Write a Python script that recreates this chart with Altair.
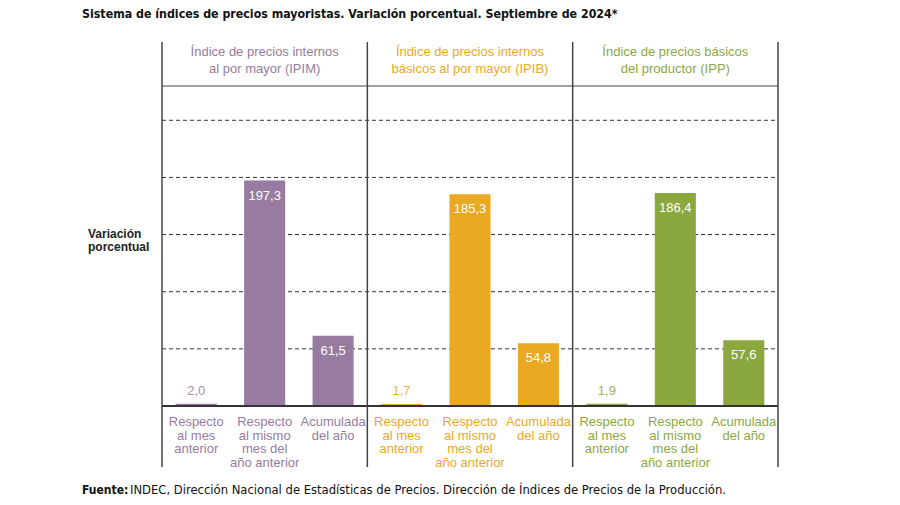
import altair as alt
import pandas as pd

# ---- data ----
groups = ["IPIM", "IPIB", "IPP"]
group_headers = [
    "Índice de precios internos\nal por mayor (IPIM)",
    "Índice de precios internos\nbásicos al por mayor (IPIB)",
    "Índice de precios básicos\ndel productor (IPP)",
]
categories = [
    "Respecto\nal mes\nanterior",
    "Respecto\nal mismo\nmes del\naño anterior",
    "Acumulada\ndel año",
]
ipim_values = [2.0, 197.3, 61.5]
ipib_values = [1.7, 185.3, 54.8]
ipp_values = [1.9, 186.4, 57.6]
group_colors = ["#977ba0", "#e9a923", "#8aa83d"]
grid_values = [50, 100, 150, 200, 250]
y_max = 280

title_text = "Sistema de índices de precios mayoristas. Variación porcentual. Septiembre de 2024*"
source_bold = "Fuente:"
source_text = "INDEC, Dirección Nacional de Estadísticas de Precios. Dirección de Índices de Precios de la Producción."
y_title = "Variación\nporcentual"

# ---- tables ----
W, H = 616, 320
rows = []
keys = []
for g, vals in zip(groups, [ipim_values, ipib_values, ipp_values]):
    for i, (c, v) in enumerate(zip(categories, vals)):
        k = f"{g}|{i}"
        keys.append(k)
        rows.append({"group": g, "key": k, "cat": c, "value": v,
                     "label": f"{v:.1f}".replace(".", ",")})
df = pd.DataFrame(rows)
df_grid = pd.DataFrame({"y": grid_values})
df_div = pd.DataFrame({"b": [0, 1, 2, 3]})
df_head = pd.DataFrame({"c": [0.5, 1.5, 2.5], "group": groups, "text": group_headers})

COND = "DejaVu Sans Condensed, Liberation Sans Narrow, Liberation Sans"

color = alt.Color("group:N", scale=alt.Scale(domain=groups, range=group_colors), legend=None)
xband = alt.X("key:N", sort=keys,
              scale=alt.Scale(domain=keys, paddingInner=0.4, paddingOuter=0.2), axis=None)
yq = alt.Y("value:Q", scale=alt.Scale(domain=[0, y_max], nice=False), axis=None)
xq_div = alt.X("b:Q", scale=alt.Scale(domain=[0, 3], nice=False, zero=False), axis=None)
xq_head = alt.X("c:Q", scale=alt.Scale(domain=[0, 3], nice=False, zero=False), axis=None)

base = alt.Chart(df)

grid = alt.Chart(df_grid).mark_rule(color="#333333", strokeWidth=1, strokeDash=[4, 3]).encode(
    y=alt.Y("y:Q", scale=alt.Scale(domain=[0, y_max], nice=False), axis=None),
    x=alt.value(0), x2=alt.value(W))

top_line = alt.Chart(pd.DataFrame({"y": [y_max]})).mark_rule(color="#444444", strokeWidth=1).encode(
    y=alt.Y("y:Q", scale=alt.Scale(domain=[0, y_max], nice=False), axis=None),
    x=alt.value(0), x2=alt.value(W))

bars = base.mark_bar().encode(x=xband, y=yq, color=color)

base_line = alt.Chart(pd.DataFrame({"y": [0]})).mark_rule(color="#333333", strokeWidth=2).encode(
    y=alt.Y("y:Q", scale=alt.Scale(domain=[0, y_max], nice=False), axis=None),
    x=alt.value(0), x2=alt.value(W))

dividers = alt.Chart(df_div).mark_rule(color="#444444", strokeWidth=1.5).encode(
    x=xq_div, y=alt.value(-44), y2=alt.value(381))

inside_labels = base.transform_filter("datum.value > 20").mark_text(
    font="Liberation Sans", fontSize=13, color="white", baseline="middle", dy=15
).encode(x=xband, y=yq, text="label:N")

small_labels = base.transform_filter("datum.value <= 20").mark_text(
    font="Liberation Sans", fontSize=13, baseline="middle", dy=-13, opacity=0.85
).encode(x=xband, y=yq, text="label:N", color=color)

cat_labels = base.mark_text(
    font="Liberation Sans", fontSize=13, baseline="top", lineBreak="\n", lineHeight=13.5
).encode(x=xband, y=alt.value(H + 10), text="cat:N", color=color)

headers = alt.Chart(df_head).mark_text(
    font="Liberation Sans", fontSize=13, baseline="middle", lineBreak="\n", lineHeight=17
).encode(x=xq_head, y=alt.value(-34), text="text:N", color=color)

title = alt.Chart(pd.DataFrame({"t": [title_text]})).mark_text(
    font=COND, fontSize=12.3, fontWeight="bold", align="left",
    baseline="alphabetic", color="#111111"
).encode(x=alt.value(-80), y=alt.value(-68), text="t:N")

ytitle = alt.Chart(pd.DataFrame({"t": [y_title]})).mark_text(
    font="Liberation Sans", fontSize=12, fontWeight="bold", align="left",
    baseline="top", lineBreak="\n", lineHeight=12.5, color="#222222"
).encode(x=alt.value(-74), y=alt.value(143), text="t:N")

src1 = alt.Chart(pd.DataFrame({"t": [source_bold]})).mark_text(
    font=COND, fontSize=12, fontWeight="bold", align="left",
    baseline="alphabetic", color="#111111"
).encode(x=alt.value(-80), y=alt.value(408), text="t:N")

src2 = alt.Chart(pd.DataFrame({"t": [source_text]})).mark_text(
    font=COND, fontSize=12.9, align="left",
    baseline="alphabetic", color="#111111"
).encode(x=alt.value(-32), y=alt.value(408), text="t:N")

chart = alt.layer(
    grid, top_line, bars, base_line, dividers, inside_labels, small_labels,
    cat_labels, headers, title, ytitle, src1, src2
).resolve_scale(x="independent").properties(
    width=W, height=H,
    autosize=alt.AutoSizeParams(type="none"),
    padding={"left": 154, "top": 78, "right": 100, "bottom": 91},
).configure_view(stroke=None)

chart.save("out.html", embed_options={"renderer": "svg", "actions": False})
